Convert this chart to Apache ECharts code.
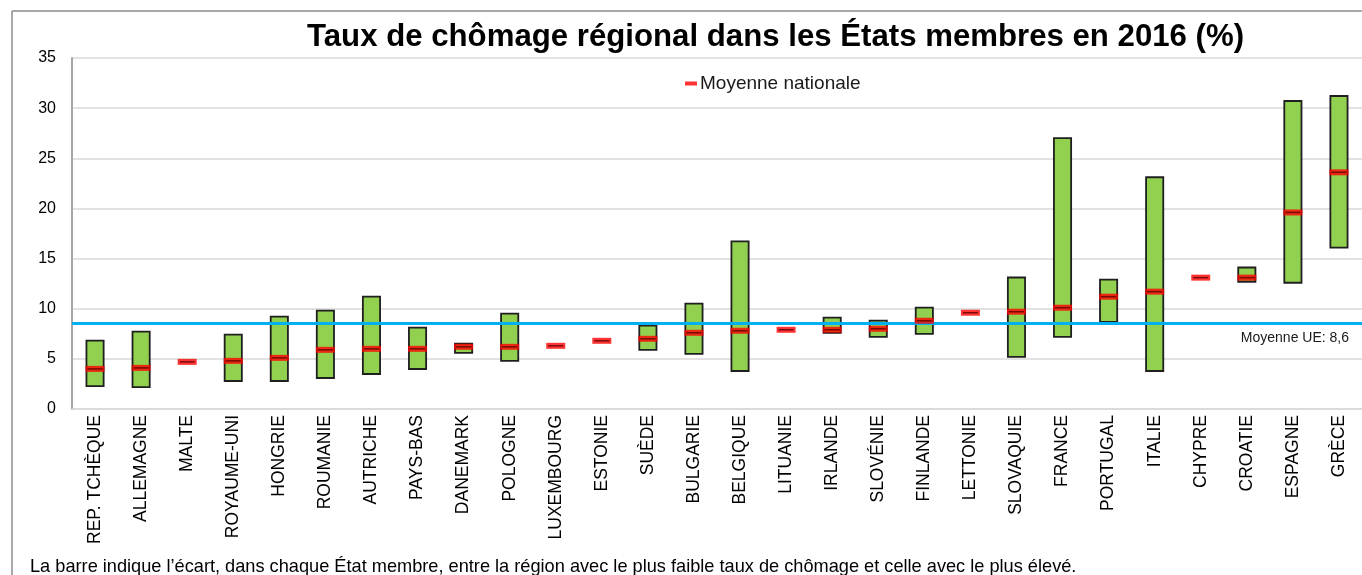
<!DOCTYPE html>
<html>
<head>
<meta charset="utf-8">
<script src="https://cdn.jsdelivr.net/npm/echarts@6/dist/echarts.min.js"></script>
<style>
  html, body { margin: 0; padding: 0; background: #fff; }
  #chart { width: 1362px; height: 575px; }
</style>
</head>
<body>
<div id="chart"></div>
<script>
'use strict';

// 数据
const categories = ['REP. TCHÈQUE', 'ALLEMAGNE', 'MALTE', 'ROYAUME-UNI', 'HONGRIE', 'ROUMANIE', 'AUTRICHE', 'PAYS-BAS',
    'DANEMARK', 'POLOGNE', 'LUXEMBOURG', 'ESTONIE', 'SUÈDE', 'BULGARIE', 'BELGIQUE', 'LITUANIE', 'IRLANDE', 'SLOVÉNIE',
    'FINLANDE', 'LETTONIE', 'SLOVAQUIE', 'FRANCE', 'PORTUGAL', 'ITALIE', 'CHYPRE', 'CROATIE', 'ESPAGNE', 'GRÈCE'];
const regionMin = [2.2, 2.1, null, 2.7, 2.7, 3.0, 3.4, 3.9, 5.5, 4.7, null, null, 5.8, 5.4, 3.7, null, 7.5, 7.1,
    7.4, null, 5.1, 7.1, 8.6, 3.7, null, 12.6, 12.5, 16.0];
const regionMax = [6.9, 7.8, null, 7.5, 9.3, 9.9, 11.3, 8.2, 6.6, 9.6, null, null, 8.4, 10.6, 16.8, null, 9.2, 8.9,
    10.2, null, 13.2, 27.1, 13.0, 23.2, null, 14.2, 30.8, 31.3];
const nationalMean = [4.0, 4.1, 4.7, 4.8, 5.1, 5.9, 6.0, 6.0, 6.2, 6.2, 6.3, 6.8, 7.0, 7.6, 7.8, 7.9, 7.9, 8.0,
    8.8, 9.6, 9.7, 10.1, 11.2, 11.7, 13.1, 13.1, 19.6, 23.6];
const euMean = 8.6;
const yTicks = [0, 5, 10, 15, 20, 25, 30, 35];

const title = 'Taux de chômage régional dans les États membres en 2016 (%)';
const footnote = 'La barre indique l’écart, dans chaque État membre, entre la région avec le plus faible taux de chômage et celle avec le plus élevé.';

const FONT = 'Arial, "Liberation Sans", sans-serif';

const baseData = regionMin.map(v => v == null ? '-' : v);
const rangeData = regionMax.map((v, i) => (v == null || regionMin[i] == null) ? '-' : +(v - regionMin[i]).toFixed(2));

const myChart = echarts.init(document.getElementById('chart'));

const option = {
    animation: false,
    backgroundColor: '#fff',
    textStyle: { fontFamily: FONT },
    title: {
        text: title,
        left: 302,
        top: 17,
        textStyle: { fontSize: 31.2, fontWeight: 'bold', color: '#000', fontFamily: FONT }
    },
    legend: {
        data: ['Moyenne nationale'],
        left: 680,
        top: 69,
        icon: 'rect',
        itemWidth: 12,
        itemHeight: 4,
        itemGap: 4,
        textStyle: { fontSize: 19, color: '#1a1a1a', padding: [0, 0, 0, -2] }
    },
    graphic: [
        // 外框
        { type: 'line', shape: { x1: 12, y1: 11, x2: 1362, y2: 11 }, style: { stroke: '#8c8c8c', lineWidth: 1.5 } },
        { type: 'line', shape: { x1: 12, y1: 11, x2: 12, y2: 575 }, style: { stroke: '#8c8c8c', lineWidth: 1.5 } },
        {
            type: 'text', left: 30, top: 558,
            style: { text: footnote, fontSize: 18.2, fill: '#000', fontFamily: FONT }
        }
    ],
    grid: { left: 72, right: -5, top: 58, bottom: 166 },
    xAxis: {
        type: 'category',
        data: categories,
        axisTick: { show: false },
        axisLine: { lineStyle: { color: '#d9d9d9', width: 1.5 } },
        axisLabel: { rotate: 90, interval: 0, fontSize: 17.5, color: '#000', margin: 6 }
    },
    yAxis: {
        type: 'value',
        min: yTicks[0],
        max: yTicks[yTicks.length - 1],
        interval: 5,
        axisLine: { show: true, lineStyle: { color: '#a6a6a6', width: 2 } },
        axisTick: { show: false },
        axisLabel: { fontSize: 16, color: '#000', margin: 16 },
        splitLine: { lineStyle: { color: '#d9d9d9', width: 1.5 } }
    },
    series: [
        {
            name: 'base',
            type: 'bar',
            stack: 'range',
            barWidth: 19,
            data: baseData,
            itemStyle: { color: 'transparent' },
            emphasis: { disabled: true },
            silent: true
        },
        {
            name: 'Écart régional',
            type: 'bar',
            stack: 'range',
            barWidth: 19,
            data: rangeData,
            itemStyle: { color: '#92d050', borderColor: '#1f1f1f', borderWidth: 1.8 },
            markLine: {
                silent: true,
                symbol: 'none',
                data: [{ yAxis: euMean }],
                lineStyle: { color: '#00b0f0', width: 3, type: 'solid' },
                label: {
                    show: true,
                    position: 'insideEndBottom',
                    formatter: 'Moyenne UE: 8,6',
                    fontSize: 14,
                    color: '#1a1a1a',
                    fontFamily: '"Liberation Sans Narrow", "Arial Narrow", Arial, sans-serif',
                    distance: [13, 8]
                }
            }
        },
        {
            name: 'Moyenne nationale',
            type: 'scatter',
            data: nationalMean,
            symbol: 'rect',
            symbolSize: [19, 6],
            itemStyle: { color: '#ff0000' },
            z: 5
        },
        {
            name: 'mean-core',
            type: 'scatter',
            data: nationalMean,
            symbol: 'rect',
            symbolSize: [15, 1.5],
            itemStyle: { color: '#5a0000' },
            z: 6,
            silent: true
        }
    ]
};

myChart.setOption(option);
</script>
</body>
</html>
